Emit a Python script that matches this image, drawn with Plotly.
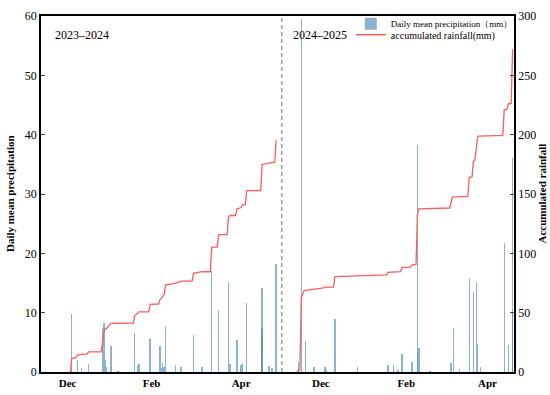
import plotly.graph_objects as go

# ---- data (x = day index along the concatenated two-season axis) ----
s1_bar_day = [22, 26, 29, 34, 44, 45, 46, 47, 50, 55, 67, 69, 70, 78, 85, 86, 87, 88, 89,
              96, 100, 109, 115, 122, 127, 134, 135, 140, 143, 144, 147, 158, 158, 163, 165, 168]
s1_bar_val = [9.8, 2.0, 0.6, 1.3, 7.5, 8.2, 2.0, 0.8, 4.4, 0.2, 6.5, 1.0, 1.3, 5.5, 4.4, 0.7, 1.5, 0.8, 7.8,
              1.1, 0.9, 6.2, 0.9, 17.0, 10.5, 15.1, 1.3, 5.4, 1.1, 1.5, 11.6, 14.1, 7.5, 1.0, 0.7, 18.2]

s2_bar_day = [184, 186, 189, 195, 203, 204, 210, 226, 248, 252, 255, 258, 265, 269, 269, 270, 278,
              293, 295, 299, 306, 309, 311, 312, 314, 331, 334, 337, 337]
s2_bar_val = [1.7, 59.5, 5.3, 0.8, 0.9, 0.4, 9.0, 0.8, 1.1, 1.2, 0.4, 3.1, 1.7, 38.3, 3.3, 4.1, 0.2,
              1.5, 7.5, 0.5, 15.9, 13.4, 15.1, 4.8, 0.9, 21.7, 4.6, 36.0, 10.0]

s1_acc_day = [21, 22, 25, 26, 29, 33, 34, 43, 44, 45, 46, 47, 50, 66, 67, 69, 70, 77, 78, 84, 85,
              86, 87, 88, 89, 96, 100, 108, 109, 115, 121, 122, 126, 127, 133, 134, 135, 139, 140,
              143, 144, 146, 147, 157, 158, 163, 165, 167, 168]
s1_acc_val = [0, 11.6, 12.0, 14.3, 14.9, 15.3, 17.0, 17.0, 25.3, 34.0, 36.5, 37.0, 41.0, 41.3, 47.4,
              49.5, 50.7, 50.7, 57.0, 57.3, 61.0, 62.0, 63.5, 65.3, 73.5, 74.6, 76.5, 76.5, 83.2, 84.5,
              84.5, 105.2, 105.2, 115.7, 115.7, 130.6, 131.9, 131.9, 137.4, 138.6, 141.0, 141.0, 152.9,
              152.9, 174.9, 176.0, 176.8, 176.8, 195.3]

s2_acc_day = [183, 184, 185, 186, 188, 194, 202, 203, 209, 210, 226, 247, 248, 252, 257, 258, 264,
              265, 268, 269, 270, 292, 294, 305, 306, 308, 309, 310, 312, 313, 330, 331, 333, 334,
              336, 337]
s2_acc_val = [0, 1.5, 1.5, 62.5, 68.6, 69.4, 70.8, 71.6, 71.6, 80.4, 81.2, 81.8, 84.0, 84.5, 84.5,
              88.1, 88.4, 90.0, 90.6, 132.7, 137.4, 138.2, 147.4, 148.0, 163.9, 164.4, 177.7, 178.2,
              198.0, 198.8, 199.4, 220.9, 221.5, 225.9, 226.3, 271.9]

month_days = [19, 79, 143, 200, 261, 319]
month_labels = ["Dec", "Feb", "Apr", "Dec", "Feb", "Apr"]
season_split = 172.1
season_labels = ["2023\u20132024", "2024\u20132025"]

SERIF = "Liberation Serif, Times New Roman, serif"

fig = go.Figure()
fig.add_trace(go.Bar(
    x=s1_bar_day + s2_bar_day, y=s1_bar_val + s2_bar_val,
    width=0.95, marker=dict(color="rgba(80,135,185,0.65)", line=dict(width=0)),
    name="Daily mean precipitation\uff08mm\uff09", yaxis="y", legend="legend",
))
fig.add_trace(go.Scatter(
    x=s1_acc_day + [None] + s2_acc_day, y=s1_acc_val + [None] + s2_acc_val,
    mode="lines", line=dict(color="#ff5c5c", width=1.3),
    name="accumulated rainfall(mm)", yaxis="y2", connectgaps=False, legend="legend2",
))

fig.add_shape(type="line", xref="x", yref="paper", x0=season_split, x1=season_split, y0=0, y1=1,
              line=dict(color="#707070", width=1, dash="4px,3px"))

fig.add_annotation(text=season_labels[0], xref="paper", yref="paper", x=0.026, y=0.947,
                   xanchor="left", yanchor="middle", showarrow=False,
                   font=dict(family=SERIF, size=12, color="black"))
fig.add_annotation(text=season_labels[1], xref="paper", yref="paper", x=0.528, y=0.947,
                   xanchor="left", yanchor="middle", showarrow=False,
                   font=dict(family=SERIF, size=12, color="black"))
fig.add_annotation(text="<b>Daily mean precipitation</b>", xref="paper", yref="paper",
                   x=-0.067, y=0.501, textangle=-90, showarrow=False,
                   xanchor="center", yanchor="middle",
                   font=dict(family=SERIF, size=11, color="black"))
fig.add_annotation(text="<b>Accumulated rainfall</b>", xref="paper", yref="paper",
                   x=1.059, y=0.501, textangle=-90, showarrow=False,
                   xanchor="center", yanchor="middle",
                   font=dict(family=SERIF, size=11, color="black"))

leg_common = dict(xanchor="left", yanchor="top", bgcolor="rgba(0,0,0,0)",
                  itemwidth=30, borderwidth=0)

fig.update_layout(
    width=550, height=395,
    margin=dict(l=41, r=36, t=9, b=23),
    paper_bgcolor="white", plot_bgcolor="white",
    barmode="overlay", bargap=0,
    font=dict(family=SERIF, size=12, color="black"),
    showlegend=True,
    legend=dict(x=0.655, y=1.019, font=dict(family=SERIF, size=9, color="black"), **leg_common),
    legend2=dict(x=0.655, y=0.988, font=dict(family=SERIF, size=10, color="black"), **leg_common),
    xaxis=dict(range=[0, 338], tickmode="array", tickvals=month_days,
               ticktext=["<b>%s</b>" % m for m in month_labels],
               ticks="", showgrid=False, zeroline=False, automargin=False,
               showline=True, linecolor="black", linewidth=1.5, mirror=True,
               tickfont=dict(family=SERIF, size=11)),
    yaxis=dict(range=[0, 60], dtick=10, ticks="inside", ticklen=4, tickwidth=1.2,
               showgrid=False, zeroline=False, showline=True, linecolor="black",
               linewidth=1.5, automargin=False, tickfont=dict(family=SERIF, size=12)),
    yaxis2=dict(range=[0, 300], dtick=50, ticks="inside", ticklen=4, tickwidth=1.2,
                overlaying="y", side="right", showgrid=False, zeroline=False,
                showline=True, linecolor="black", linewidth=1.5, automargin=False,
                tickfont=dict(family=SERIF, size=12)),
)

fig.write_html("out.html", config={"displayModeBar": False},
               post_script="document.body.style.margin='0';")
